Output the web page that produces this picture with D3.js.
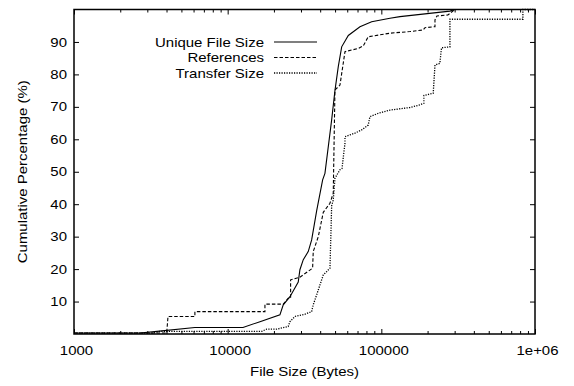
<!DOCTYPE html>
<html>
<head>
<meta charset="utf-8">
<script src="https://cdn.jsdelivr.net/npm/d3@7"></script>
<style>
  html, body { margin: 0; padding: 0; background: #fff; }
  svg { display: block; }
  text { font-family: "Liberation Sans", Arial, sans-serif; fill: #000; }
</style>
</head>
<body>
<svg id="chart" width="574" height="386"></svg>
<script>
// ---- Data (bytes, cumulative %) ----
const uniqueFileSize = [
  [1000, 0.3], [2690, 0.3], [3467, 0.8], [6120, 2.0], [12580, 2.0], [16220, 3.8],
  [21880, 5.9], [23000, 9.0], [25430, 11.5], [28790, 16], [29520, 19.8], [31050, 22.9],
  [33440, 25.4], [35200, 29], [37960, 38], [41500, 47.5], [42960, 49.5], [47500, 66],
  [49900, 75], [52460, 82.4], [55200, 88.5], [60970, 92], [72600, 94.7], [86500, 96.2],
  [113800, 97.3], [132200, 97.8], [279500, 99.5], [301000, 100], [1000000, 100]
];
const references = [
  [1000, 0.3], [4010, 0.3], [4090, 5.4], [6120, 5.4], [6120, 6.9], [17480, 6.9],
  [17480, 9.2], [23000, 9.2], [24770, 11], [25680, 11], [25680, 16.7], [29520, 17.5],
  [35720, 20.3], [36050, 25.4], [38880, 30], [41900, 37.5], [46300, 40.3], [48660, 43.4],
  [49900, 75.2], [53800, 76.7], [57990, 87], [70750, 88], [76300, 88.8], [82200, 91.6],
  [113800, 92.7], [153500, 93.2], [187400, 93.7], [192300, 94.4], [223400, 94.7],
  [223400, 96.8], [230000, 98], [271000, 98.3], [301000, 100], [1000000, 100]
];
const transferSize = [
  [1000, 0.3], [3267, 0.3], [3630, 0.8], [16630, 0.8], [17940, 1.5], [20830, 1.5],
  [24770, 2.3], [25430, 3.8], [27420, 5.4], [31850, 6.1], [35200, 6.9], [36050, 9],
  [37960, 12.1], [41900, 18.2], [44020, 19.2], [46300, 20.3], [47500, 39.5], [48660, 41.3],
  [49900, 48], [53800, 50.6], [55450, 51], [57990, 58.8], [57990, 60.8], [67300, 61.9],
  [74430, 62.9], [82200, 64.4], [84300, 67], [95500, 68], [113800, 69], [153500, 69.8],
  [178200, 70.6], [189200, 71.1], [189200, 73.5], [217600, 74.2], [223400, 82.9],
  [240300, 83.4], [246500, 88.2], [279500, 88.5], [279500, 97], [834000, 97],
  [834000, 100], [1000000, 100]
];
const seriesNames = ["Unique File Size", "References", "Transfer Size"];
const xMajorTicks = [1000, 10000, 100000, 1000000];
const xTickLabels = ["1000", "10000", "100000", "1e+06"];
const yTicks = [10, 20, 30, 40, 50, 60, 70, 80, 90];
const xTitle = "File Size (Bytes)";
const yTitle = "Cumulative Percentage (%)";

// ---- Layout ----
const L = 74, R = 535, T = 9.5, B = 334;
const svg = d3.select("#chart");
const x = d3.scaleLog().domain([1000, 1000000]).range([L, R]);
const y = d3.scaleLinear().domain([0, 100]).range([B, T]);

const xMinor = [];
for (let d = 1000; d < 1000000; d *= 10) for (let m = 2; m <= 9; m++) xMinor.push(d * m);

const fontSize = 12.8;
const stretch = 1.17;
const fontFam = "Liberation Sans, Arial, sans-serif";
function widen(sel) {
  sel.each(function () {
    const t = d3.select(this);
    const x0 = +t.attr("x") || 0;
    const prev = t.attr("transform") || "";
    t.attr("transform", `${prev} translate(${x0},0) scale(${stretch},1) translate(${-x0},0)`);
  });
}
function styleAxis(g) {
  g.select(".domain").remove();
  g.selectAll("line").attr("stroke", "#000").attr("stroke-width", 1);
  g.selectAll("text").attr("font-size", fontSize).attr("font-family", fontFam).attr("fill", "#000").call(widen);
}

svg.append("g").attr("transform", `translate(${L},0)`)
  .call(d3.axisLeft(y).tickValues(yTicks).tickSize(-5).tickPadding(7).tickFormat(d3.format("d")))
  .call(styleAxis);
svg.append("g").attr("transform", `translate(${R},0)`)
  .call(d3.axisRight(y).tickValues(yTicks).tickSize(-5).tickFormat(""))
  .call(styleAxis);
svg.append("g").attr("transform", `translate(0,${B})`)
  .call(d3.axisBottom(x).tickValues(xMajorTicks).tickSize(-5).tickPadding(12)
    .tickFormat((d, i) => xTickLabels[i]))
  .call(g => g.selectAll("text").attr("x", 2))
  .call(styleAxis);
svg.append("g").attr("transform", `translate(0,${B})`)
  .call(d3.axisBottom(x).tickValues(xMinor).tickSize(-3).tickFormat(""))
  .call(styleAxis);
svg.append("g").attr("transform", `translate(0,${T})`)
  .call(d3.axisTop(x).tickValues(xMajorTicks).tickSize(-5).tickFormat(""))
  .call(styleAxis);
svg.append("g").attr("transform", `translate(0,${T})`)
  .call(d3.axisTop(x).tickValues(xMinor).tickSize(-3).tickFormat(""))
  .call(styleAxis);

const line = d3.line().x(d => x(d[0])).y(d => y(d[1]));
const styles = [
  { dash: null, width: 1.1 },
  { dash: "3.5,2", width: 1.1 },
  { dash: "1.2,1.3", width: 1.3 }
];
[uniqueFileSize, references, transferSize].forEach((data, i) => {
  svg.append("path").datum(data)
    .attr("d", line)
    .attr("fill", "none")
    .attr("stroke", "#000")
    .attr("stroke-width", styles[i].width)
    .attr("stroke-dasharray", styles[i].dash);
});

svg.append("rect")
  .attr("x", L).attr("y", T).attr("width", R - L).attr("height", B - T)
  .attr("fill", "none").attr("stroke", "#000").attr("stroke-width", 1.5);

const legendRows = [42, 57.5, 73];
seriesNames.forEach((name, i) => {
  svg.append("text")
    .attr("x", 264).attr("y", legendRows[i] + 4.6)
    .attr("text-anchor", "end")
    .attr("font-size", fontSize).attr("font-family", fontFam)
    .text(name).call(widen);
  svg.append("line")
    .attr("x1", 274).attr("x2", 317)
    .attr("y1", legendRows[i]).attr("y2", legendRows[i])
    .attr("stroke", "#000")
    .attr("stroke-width", styles[i].width)
    .attr("stroke-dasharray", styles[i].dash);
});

svg.append("text")
  .attr("x", (L + R) / 2).attr("y", 376.5)
  .attr("text-anchor", "middle").attr("font-size", fontSize).attr("font-family", fontFam)
  .text(xTitle).call(widen);
svg.append("g")
  .attr("transform", `translate(27,${(T + B) / 2}) rotate(-90)`)
  .append("text")
  .attr("x", 0).attr("y", 0)
  .attr("text-anchor", "middle").attr("font-size", fontSize).attr("font-family", fontFam)
  .text(yTitle).call(widen);
</script>
</body>
</html>
